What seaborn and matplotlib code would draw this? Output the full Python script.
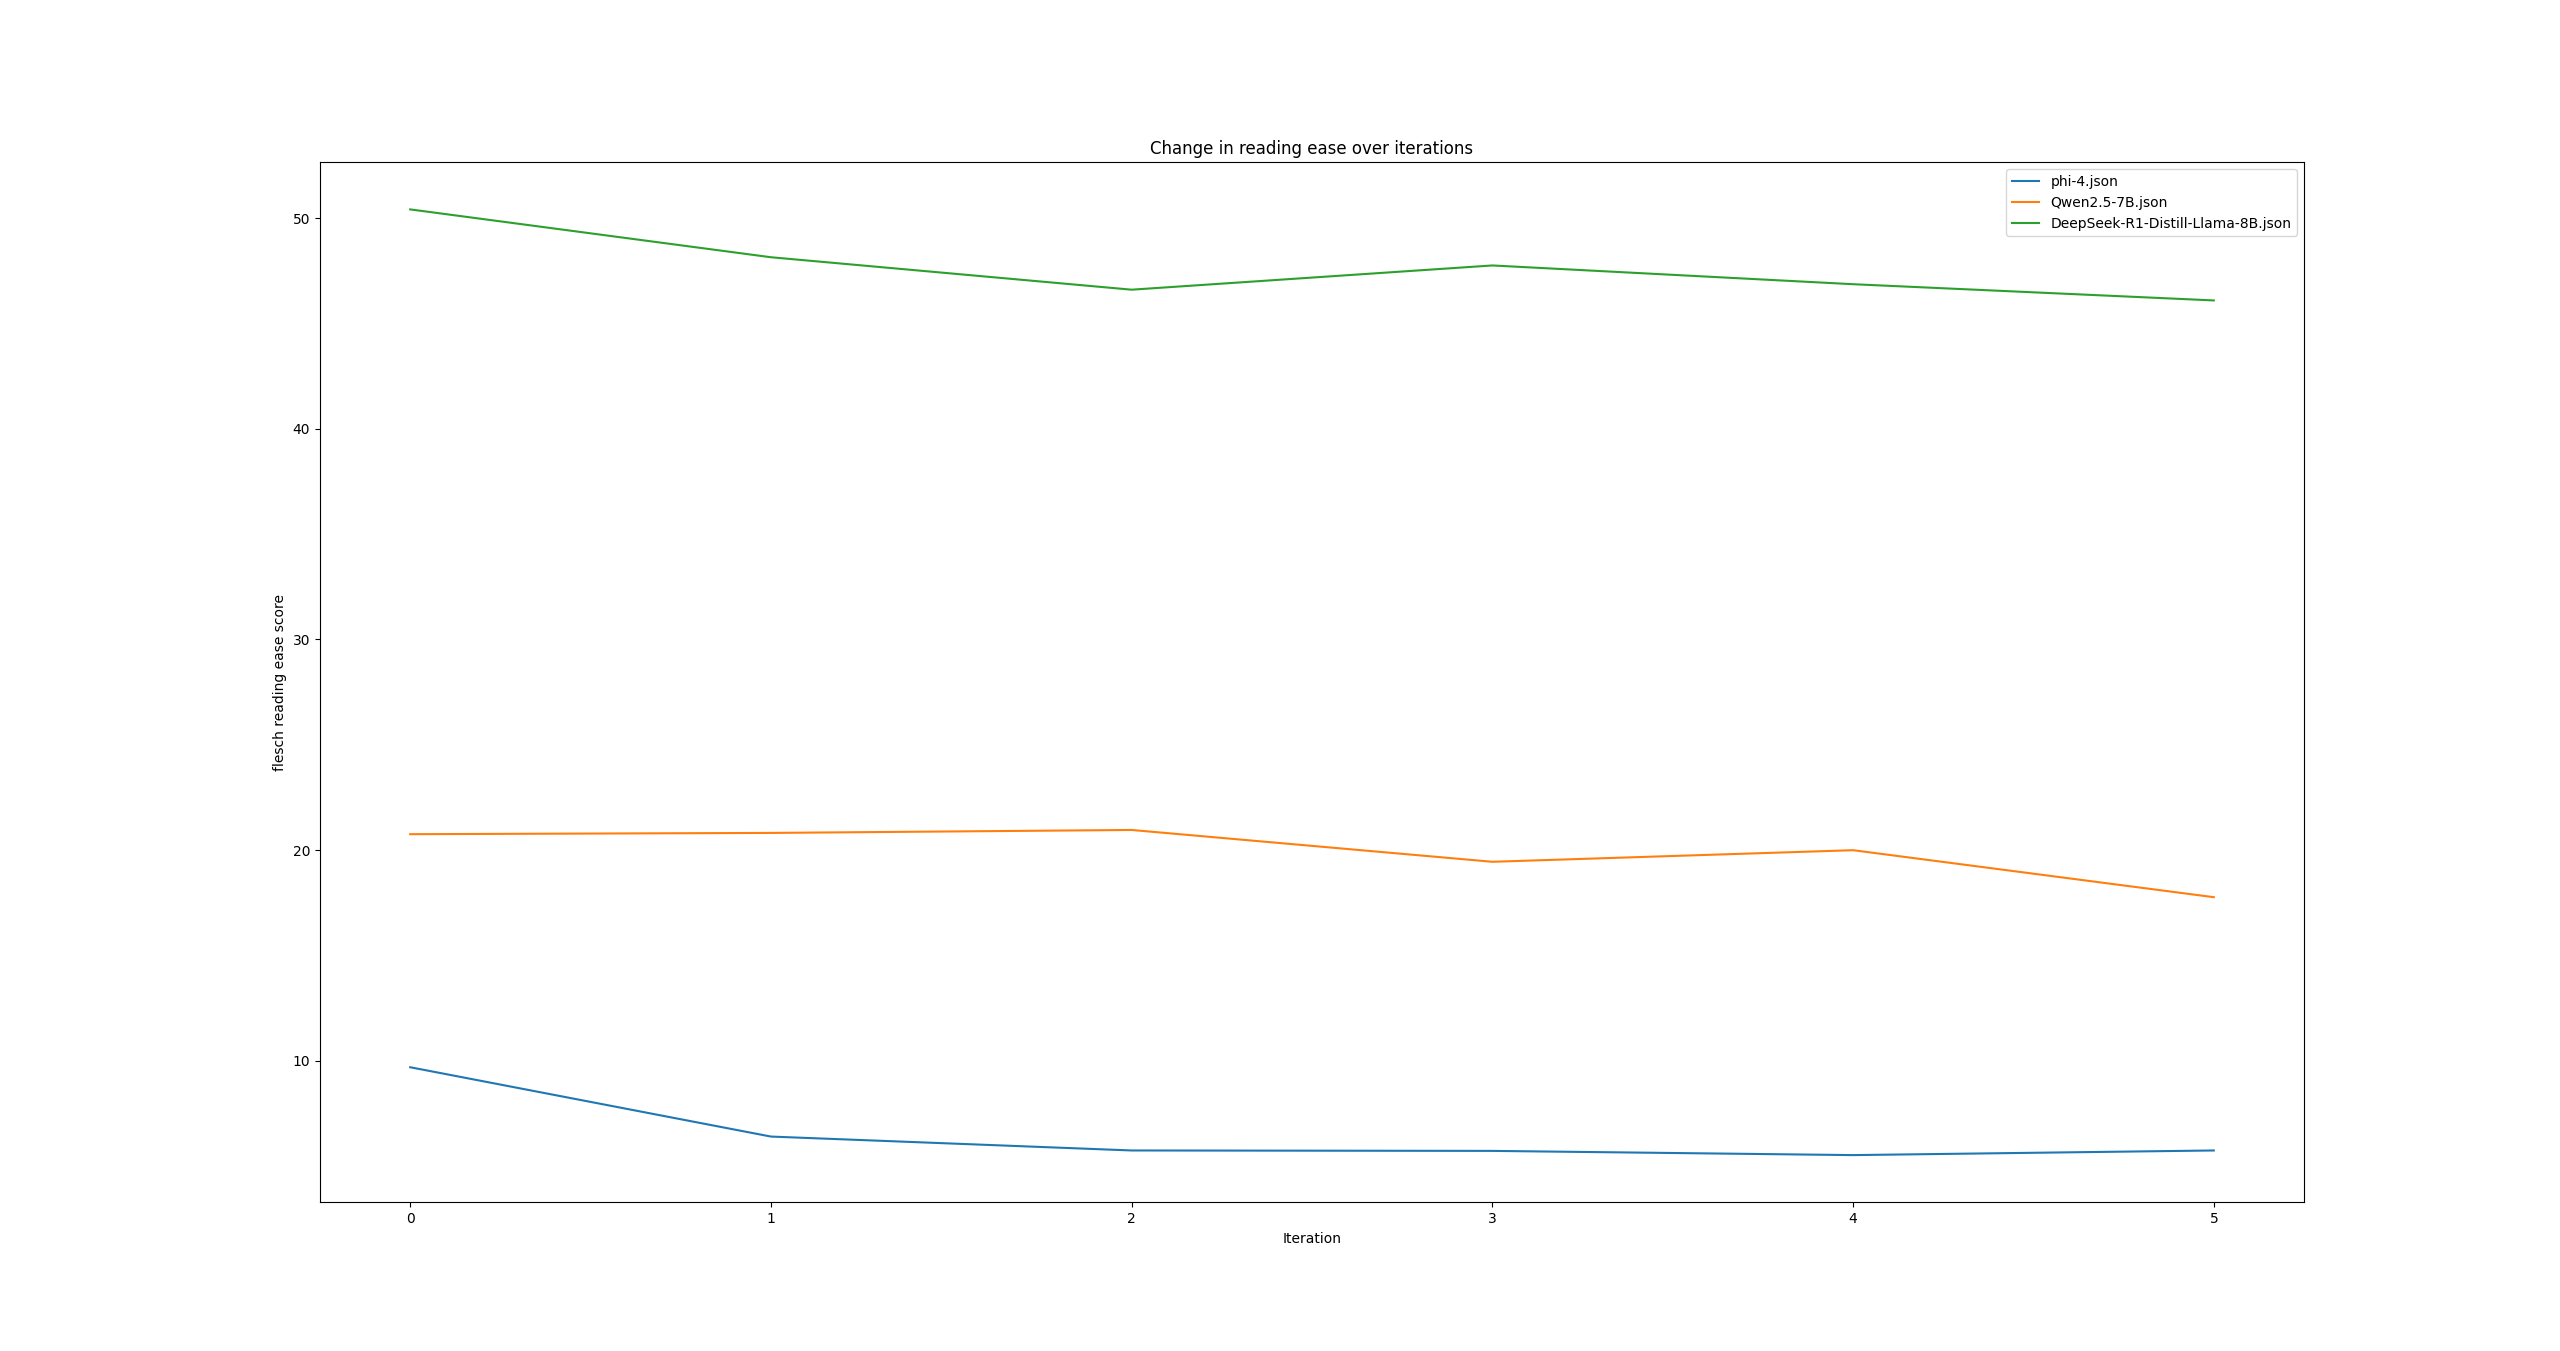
import pandas as pd
import seaborn as sns
import matplotlib
matplotlib.use("Agg")
import matplotlib.pyplot as plt

# values
iterations = [0, 1, 2, 3, 4, 5]
models = ["phi-4.json", "Qwen2.5-7B.json", "DeepSeek-R1-Distill-Llama-8B.json"]
phi4 = [9.70, 6.41, 5.75, 5.73, 5.53, 5.75]
qwen = [20.76, 20.82, 20.96, 19.45, 20.00, 17.77]
deepseek = [50.41, 48.14, 46.60, 47.75, 46.86, 46.09]

scores = [phi4, qwen, deepseek]
df = pd.concat(
    [pd.DataFrame({"Iteration": iterations, "score": s, "model": m}) for m, s in zip(models, scores)],
    ignore_index=True,
)

fig, ax = plt.subplots(figsize=(25.6, 13.51), dpi=100)
for m in models:
    sub = df[df["model"] == m]
    sns.lineplot(data=sub, x="Iteration", y="score", label=m, ax=ax)

ax.set_title("Change in reading ease over iterations")
ax.set_xlabel("Iteration")
ax.set_ylabel("flesch reading ease score")
ax.legend(loc="upper right")

fig.savefig("out.png", dpi=100)
